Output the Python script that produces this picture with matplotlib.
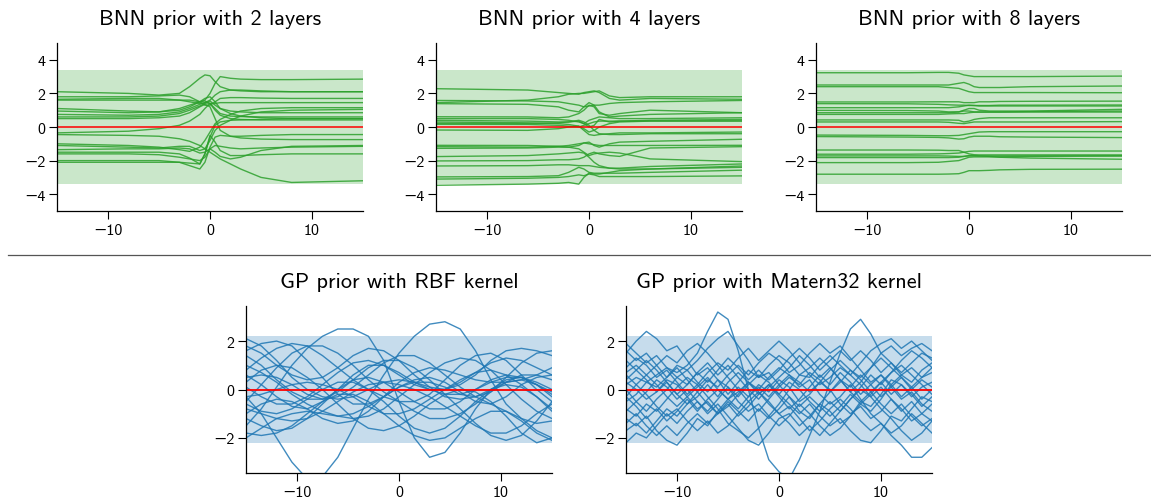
import matplotlib
matplotlib.use("Agg")
import matplotlib.pyplot as plt
from matplotlib.lines import Line2D

plt.rcParams['font.family'] = ['cmss10', 'DejaVu Sans']
plt.rcParams['axes.unicode_minus'] = True

# BNN prior samples, values read at these x positions
bnn2_x = [-15, -8, -5, -3, -2, -1, -0.5, 0, 0.5, 1, 2, 3, 5, 8, 15]
bnn2 = [
    [2.1, 2.0, 1.9, 2.0, 2.4, 2.9, 3.1, 3.05, 2.7, 2.4, 2.2, 2.15, 2.1, 2.1, 2.1],
    [1.6, 1.6, 1.6, 1.6, 1.6, 1.5, 1.6, 2.0, 2.6, 3.0, 2.9, 2.85, 2.82, 2.82, 2.85],
    [1.8, 1.8, 1.85, 1.9, 1.8, 1.5, 1.3, 1.3, 1.5, 1.7, 1.75, 1.75, 1.72, 1.7, 1.7],
    [1.65, 1.7, 1.7, 1.6, 1.5, 1.4, 1.45, 1.6, 1.9, 2.1, 2.2, 2.2, 2.15, 2.1, 2.1],
    [1.1, 0.95, 0.9, 1.0, 1.2, 1.5, 1.7, 1.8, 1.5, 1.1, 0.8, 0.65, 0.55, 0.5, 0.5],
    [0.95, 0.85, 0.9, 1.1, 1.3, 1.5, 1.55, 1.4, 1.0, 0.7, 0.5, 0.45, 0.42, 0.42, 0.42],
    [0.75, 0.7, 0.75, 0.9, 1.1, 1.35, 1.45, 1.4, 1.4, 1.45, 1.45, 1.45, 1.45, 1.45, 1.45],
    [0.6, 0.6, 0.65, 0.8, 1.0, 1.25, 1.4, 1.55, 1.3, 1.1, 0.95, 0.9, 0.85, 0.85, 0.85],
    [0.5, 0.5, 0.55, 0.65, 0.85, 1.2, 1.35, 1.2, 0.5, -0.2, -0.55, -0.65, -0.72, -0.75, -0.75],
    [-0.35, -0.25, -0.1, 0.1, 0.35, 0.75, 1.1, 1.4, 1.1, 0.8, 0.65, 0.62, 0.6, 0.6, 0.6],
    [-0.45, -0.5, -0.55, -0.7, -0.85, -1.1, -1.3, -1.5, -1.7, -1.9, -2.2, -2.5, -3.0, -3.3, -3.2],
    [-1.0, -1.1, -1.2, -1.35, -1.45, -1.2, -0.8, -0.3, 0.2, 0.45, 0.75, 0.95, 1.1, 1.15, 1.15],
    [-1.1, -1.2, -1.25, -1.15, -1.15, -1.4, -1.3, -0.8, -0.2, 0.1, 0.4, 0.65, 0.9, 1.0, 1.05],
    [-1.35, -1.3, -1.3, -1.25, -1.3, -1.55, -1.5, -1.3, -1.1, -1.15, -1.25, -1.3, -1.25, -1.2, -1.15],
    [-1.5, -1.5, -1.5, -1.6, -1.85, -2.2, -1.6, -0.6, 0.1, 0.3, 0.4, 0.42, 0.45, 0.5, 0.5],
    [-2.0, -2.0, -2.0, -2.1, -2.3, -2.5, -2.1, -1.2, -0.6, -0.5, -0.55, -0.55, -0.5, -0.45, -0.45],
    [-2.1, -2.1, -2.1, -2.1, -2.15, -2.2, -1.6, -0.5, -0.9, -1.4, -1.7, -1.7, -1.65, -1.6, -1.6],
    [-1.6, -1.6, -1.65, -1.8, -1.9, -2.0, -1.8, -1.3, -1.5, -1.75, -1.9, -1.8, -1.4, -1.15, -1.1],
]

bnn_x = [-15, -6, -3, -2, -1, -0.5, 0, 0.5, 1, 2, 3, 6, 15]
bnn4 = [
    [2.28, 2.2, 2.05, 2.0, 1.95, 2.05, 2.1, 2.15, 2.05, 1.7, 1.6, 1.7, 1.65],
    [1.45, 1.6, 1.8, 1.95, 2.0, 2.0, 2.05, 2.1, 2.15, 1.85, 1.75, 1.8, 1.8],
    [1.58, 1.55, 1.5, 1.4, 1.3, 1.2, 1.25, 1.3, 1.3, 1.4, 1.45, 1.5, 1.58],
    [1.39, 1.35, 1.2, 1.0, 0.9, 1.2, 1.45, 1.3, 0.9, 0.6, 0.65, 0.75, 0.85],
    [0.61, 0.6, 0.55, 0.6, 0.8, 1.0, 1.3, 1.2, 0.8, 0.7, 0.8, 1.0, 0.85],
    [0.5, 0.5, 0.45, 0.4, 0.3, 0.2, 0.4, 0.5, 0.6, 0.55, 0.5, 0.5, 0.55],
    [0.4, 0.35, 0.3, 0.3, 0.35, 0.2, 0.0, 0.1, 0.45, 0.3, 0.35, 0.4, 0.45],
    [0.3, 0.25, 0.2, 0.15, 0.05, -0.2, -0.45, -0.5, -0.45, -0.4, -0.35, -0.35, -0.3],
    [0.22, 0.2, 0.25, 0.3, 0.4, 0.3, 0.1, -0.2, -0.4, -0.45, -0.45, -0.4, -0.4],
    [0.16, 0.15, 0.1, 0.05, 0.0, 0.1, 0.2, 0.3, 0.35, 0.35, 0.35, 0.36, 0.36],
    [-0.18, -0.2, -0.1, 0.0, 0.05, -0.1, -0.3, -0.2, 0.0, 0.2, 0.3, 0.35, 0.36],
    [-1.09, -1.1, -1.15, -1.2, -1.1, -0.95, -0.9, -1.1, -1.2, -1.0, -0.9, -0.85, -0.73],
    [-1.17, -1.2, -1.15, -1.1, -1.0, -0.95, -1.0, -1.05, -1.1, -1.1, -1.1, -1.1, -1.09],
    [-1.27, -1.25, -1.2, -1.2, -1.3, -1.5, -1.7, -1.6, -1.55, -1.5, -1.55, -1.9, -2.06],
    [-1.76, -1.7, -1.6, -1.55, -1.5, -1.55, -1.8, -2.1, -2.3, -2.45, -2.5, -2.5, -2.32],
    [-2.02, -2.0, -1.95, -1.95, -1.9, -1.8, -1.6, -1.5, -1.6, -1.7, -1.75, -1.25, -1.17],
    [-2.32, -2.3, -2.25, -2.25, -2.3, -2.3, -2.3, -2.35, -2.4, -2.45, -2.45, -2.35, -2.2],
    [-2.97, -2.95, -2.9, -2.7, -2.4, -2.5, -2.7, -2.75, -2.75, -2.75, -2.75, -2.7, -2.57],
    [-3.1, -3.05, -3.0, -2.95, -2.85, -2.9, -2.8, -2.85, -2.95, -2.95, -2.95, -2.95, -2.91],
    [-3.47, -3.4, -3.35, -3.3, -3.4, -3.0, -2.75, -2.8, -2.8, -2.7, -2.6, -2.5, -2.4],
]

bnn8 = [
    [3.23, 3.23, 3.25, 3.25, 3.2, 3.1, 3.05, 3.0, 3.0, 3.0, 3.0, 3.0, 3.03],
    [2.5, 2.5, 2.5, 2.5, 2.6, 2.65, 2.55, 2.4, 2.35, 2.35, 2.35, 2.4, 2.44],
    [2.4, 2.4, 2.4, 2.35, 2.3, 2.2, 2.1, 2.05, 2.05, 2.05, 2.05, 2.05, 2.04],
    [1.49, 1.49, 1.5, 1.5, 1.5, 1.45, 1.45, 1.45, 1.5, 1.5, 1.52, 1.53, 1.54],
    [1.39, 1.38, 1.35, 1.32, 1.3, 1.3, 1.28, 1.28, 1.28, 1.28, 1.3, 1.3, 1.31],
    [1.15, 1.15, 1.15, 1.15, 1.2, 1.25, 1.3, 1.28, 1.25, 1.25, 1.25, 1.25, 1.25],
    [0.99, 0.98, 0.95, 0.9, 0.9, 1.0, 1.1, 1.1, 1.0, 0.95, 0.95, 0.95, 1.05],
    [0.85, 0.85, 0.85, 0.85, 0.9, 0.95, 0.95, 0.9, 0.9, 0.9, 0.9, 0.92, 0.95],
    [0.75, 0.75, 0.75, 0.78, 0.8, 0.8, 0.85, 0.88, 0.88, 0.88, 0.88, 0.89, 0.89],
    [0.42, 0.42, 0.42, 0.42, 0.4, 0.3, 0.35, 0.45, 0.5, 0.55, 0.55, 0.55, 0.55],
    [0.3, 0.3, 0.3, 0.28, 0.22, 0.2, 0.25, 0.3, 0.3, 0.3, 0.3, 0.3, 0.32],
    [-0.48, -0.5, -0.52, -0.52, -0.5, -0.45, -0.4, -0.35, -0.3, -0.28, -0.28, -0.28, -0.28],
    [-0.57, -0.6, -0.62, -0.65, -0.72, -0.7, -0.6, -0.55, -0.55, -0.55, -0.58, -0.6, -0.63],
    [-1.37, -1.37, -1.38, -1.4, -1.4, -1.5, -1.6, -1.65, -1.66, -1.66, -1.66, -1.66, -1.66],
    [-1.62, -1.62, -1.6, -1.58, -1.55, -1.5, -1.45, -1.43, -1.43, -1.43, -1.43, -1.43, -1.43],
    [-1.72, -1.72, -1.72, -1.73, -1.75, -1.75, -1.72, -1.72, -1.72, -1.72, -1.72, -1.72, -1.72],
    [-1.82, -1.82, -1.82, -1.82, -1.8, -1.75, -1.7, -1.7, -1.72, -1.75, -1.8, -1.85, -1.92],
    [-2.12, -2.12, -2.1, -2.05, -2.0, -1.9, -1.8, -1.78, -1.78, -1.78, -1.78, -1.75, -1.72],
    [-2.81, -2.81, -2.81, -2.8, -2.78, -2.7, -2.6, -2.6, -2.6, -2.58, -2.55, -2.52, -2.51],
]

bnn_band = 3.4

# GP prior samples
rbf_x = [-15, -13.5, -12, -10.5, -9, -7.5, -6, -4.5, -3, -1.5, 0,
         1.5, 3, 4.5, 6, 7.5, 9, 10.5, 12, 13.5, 15]
rbf = [
    [-0.3, -1.0, -2.0, -3.0, -3.7, -3.6, -2.8, -1.6, -0.4, 0.6, 1.5, 2.2, 2.7, 2.8, 2.5, 1.6, 0.4, -0.6, -1.2, -1.4, -1.3],
    [-1.5, -0.8, 0.1, 1.0, 1.7, 2.2, 2.5, 2.5, 2.2, 1.2, -0.5, -2.0, -2.8, -2.6, -1.8, -0.8, 0.0, 0.4, 0.5, 0.2, -0.3],
    [2.1, 1.8, 1.2, 0.5, 0.0, -0.3, -0.4, -0.3, 0.0, 0.3, 0.4, 0.3, 0.1, 0.0, 0.2, 0.6, 1.2, 1.6, 1.7, 1.6, 1.4],
    [1.6, 1.9, 2.0, 1.8, 1.2, 0.5, -0.2, -0.6, -0.6, -0.3, 0.1, 0.4, 0.5, 0.3, -0.1, -0.5, -0.6, -0.3, 0.2, 0.5, 0.6],
    [0.8, 1.3, 1.7, 1.9, 1.8, 1.4, 0.9, 0.4, 0.0, -0.3, -0.5, -0.5, -0.2, 0.4, 1.0, 1.4, 1.5, 1.2, 0.6, 0.0, -0.5],
    [-0.5, 0.2, 0.9, 1.5, 1.8, 1.8, 1.5, 1.0, 0.4, -0.1, -0.5, -0.9, -1.2, -1.2, -1.0, -0.6, -0.1, 0.5, 1.1, 1.5, 1.6],
    [0.5, 0.6, 0.5, 0.2, -0.2, -0.4, -0.3, 0.1, 0.6, 1.1, 1.4, 1.4, 1.1, 0.6, 0.1, -0.3, -0.6, -0.9, -1.3, -1.8, -2.1],
    [-2.0, -1.6, -1.2, -1.0, -0.9, -1.0, -1.1, -1.0, -0.7, -0.3, 0.1, 0.3, 0.3, 0.1, -0.2, -0.3, -0.1, 0.3, 0.6, 0.6, 0.4],
    [-1.8, -1.9, -1.8, -1.5, -1.0, -0.5, -0.2, -0.2, -0.5, -1.0, -1.5, -1.9, -2.1, -2.0, -1.6, -1.2, -0.9, -0.9, -1.2, -1.7, -2.0],
    [-0.8, -1.0, -1.2, -1.3, -1.2, -0.9, -0.5, -0.1, 0.2, 0.3, 0.2, 0.0, -0.3, -0.7, -1.1, -1.5, -1.8, -1.8, -1.5, -1.0, -0.6],
    [0.1, -0.3, -0.6, -0.6, -0.3, 0.2, 0.7, 1.1, 1.2, 1.0, 0.6, 0.2, 0.0, 0.0, 0.3, 0.7, 1.1, 1.3, 1.2, 0.9, 0.6],
    [-0.3, -0.2, 0.0, 0.2, 0.3, 0.2, 0.0, -0.3, -0.7, -1.0, -1.0, -0.8, -0.4, 0.0, 0.4, 0.7, 0.8, 0.6, 0.2, -0.3, -0.8],
    [1.0, 0.7, 0.3, -0.2, -0.6, -0.9, -1.1, -1.2, -1.1, -0.8, -0.3, 0.2, 0.7, 1.1, 1.3, 1.2, 0.8, 0.2, -0.4, -0.9, -1.2],
    [0.3, 0.8, 1.0, 0.9, 0.5, 0.0, -0.6, -1.2, -1.6, -1.7, -1.5, -1.1, -0.6, -0.2, 0.0, -0.1, -0.5, -1.1, -1.8, -2.2, -2.0],
    [-1.2, -1.5, -1.7, -1.6, -1.2, -0.6, 0.0, 0.4, 0.5, 0.3, -0.1, -0.5, -0.8, -0.8, -0.5, 0.0, 0.4, 0.6, 0.5, 0.2, -0.1],
    [1.4, 1.0, 0.4, -0.1, -0.4, -0.4, -0.1, 0.4, 0.9, 1.2, 1.2, 0.9, 0.4, -0.2, -0.8, -1.4, -1.9, -2.1, -1.9, -1.3, -0.5],
    [-1.0, -0.6, -0.4, -0.5, -0.8, -1.2, -1.4, -1.3, -0.9, -0.3, 0.3, 0.7, 0.9, 0.8, 0.6, 0.4, 0.3, 0.3, 0.4, 0.6, 0.9],
    [0.6, 0.2, -0.3, -0.7, -0.8, -0.5, 0.0, 0.6, 1.0, 1.0, 0.7, 0.3, 0.0, -0.2, -0.2, 0.0, 0.3, 0.5, 0.5, 0.3, 0.0],
    [-0.6, -0.9, -1.0, -0.8, -0.4, 0.0, 0.3, 0.3, 0.0, -0.5, -1.1, -1.6, -1.8, -1.6, -1.1, -0.5, 0.0, 0.2, 0.1, -0.3, -0.9],
    [1.8, 1.5, 1.0, 0.6, 0.4, 0.5, 0.9, 1.4, 1.7, 1.6, 1.2, 0.6, 0.1, -0.3, -0.4, -0.3, 0.0, 0.3, 0.4, 0.2, -0.2],
]

matern_x = list(range(-15, 16))
matern = [
    [0.2, 0.5, 0.3, 0.6, 0.9, 0.7, 1.0, 1.5, 2.4, 3.2, 2.9, 1.6, 0.0, -1.6, -2.9, -3.4, -3.7, -2.9, -1.9, -0.9, 0.3, 1.5, 2.5, 2.9, 2.3, 1.5, 1.1, 0.6, 0.9, 0.5, 0.7],
    [-0.5, -0.2, 0.3, 0.1, 0.5, 1.0, 0.8, 1.2, 1.7, 2.1, 2.4, 1.8, 1.2, 0.5, 0.7, 0.2, -0.3, -0.9, -1.2, -0.6, -0.9, -1.4, -1.1, -0.5, -0.7, -0.2, 0.4, 0.2, -0.3, 0.1, 0.3],
    [1.5, 2.0, 2.4, 2.1, 1.6, 1.8, 1.2, 0.6, 0.9, 0.4, -0.2, 0.3, 0.8, 0.5, 1.0, 1.4, 1.1, 0.6, 0.9, 1.3, 0.9, 0.4, -0.1, 0.3, 0.9, 1.5, 1.8, 1.4, 1.7, 1.9, 1.6],
    [-1.2, -1.5, -1.1, -1.7, -2.1, -2.3, -1.8, -1.2, -1.5, -0.9, -0.4, -0.8, -0.3, 0.2, -0.1, 0.4, 0.1, -0.5, -0.2, 0.3, 0.0, -0.6, -1.0, -0.7, -1.2, -0.9, -0.4, -0.8, -1.3, -1.0, -0.6],
    [0.3, 0.0, -0.4, -0.1, 0.4, 0.2, -0.3, -0.8, -0.5, -1.0, -0.7, -0.2, 0.3, 0.0, 0.5, 0.9, 0.6, 0.1, 0.4, -0.2, -0.6, -0.3, 0.2, -0.4, -1.0, -1.4, -1.9, -2.3, -2.8, -2.8, -2.4],
    [0.9, 1.3, 1.0, 0.5, 0.8, 0.3, -0.2, 0.2, 0.7, 1.1, 0.8, 1.3, 1.7, 1.2, 1.6, 2.0, 1.6, 1.1, 0.6, 0.2, 0.5, 0.9, 0.6, 1.1, 1.6, 1.9, 2.1, 1.7, 2.0, 1.6, 1.2],
    [-0.8, -1.1, -0.6, -0.9, -0.4, 0.1, 0.5, 0.2, -0.3, -0.8, -1.4, -1.7, -2.0, -1.6, -1.1, -0.6, 0.0, 0.6, 0.5, 1.0, 1.4, 1.0, 0.6, 0.2, -0.3, 0.1, -0.4, -0.9, -0.5, -1.0, -1.3],
    [1.9, 1.5, 1.1, 1.4, 0.9, 0.5, 0.8, 0.3, -0.1, 0.4, 0.1, -0.5, -0.9, -0.6, -1.1, -1.5, -1.1, -0.6, -1.0, -1.5, -1.9, -1.6, -1.1, -0.6, -0.9, -0.4, 0.2, 0.6, 0.3, 0.8, 1.1],
    [-1.7, -1.4, -1.8, -1.3, -0.8, -1.1, -0.6, -0.1, 0.4, 0.1, 0.6, 1.0, 0.6, 1.1, 1.5, 1.2, 0.7, 1.0, 1.5, 1.9, 1.5, 1.8, 1.3, 0.8, 0.3, 0.6, 0.1, -0.4, -0.1, -0.6, -0.9],
    [0.6, 0.2, 0.6, 1.0, 1.4, 1.1, 1.6, 1.9, 1.5, 1.0, 0.5, 0.0, -0.5, -0.1, -0.6, -1.0, -0.7, -1.2, -1.7, -1.3, -0.8, -0.4, -0.8, -1.3, -1.7, -1.4, -1.8, -1.5, -1.0, -1.4, -1.8],
    [-0.3, 0.2, -0.2, -0.7, -1.1, -0.8, -1.3, -1.7, -1.3, -1.8, -1.5, -1.0, -0.5, -0.9, -0.4, 0.1, 0.5, 0.2, 0.7, 0.4, -0.1, 0.3, 0.8, 0.5, 0.9, 1.3, 0.9, 0.5, 0.0, 0.4, 0.1],
    [1.2, 0.8, 0.4, -0.1, 0.3, -0.2, -0.6, -0.3, 0.2, -0.3, 0.3, 0.7, 0.3, -0.2, 0.2, -0.3, -0.8, -0.4, 0.1, 0.6, 0.2, 0.7, 0.3, -0.2, 0.2, 0.6, 0.2, -0.3, 0.1, -0.4, 0.0],
    [-2.2, -1.8, -2.0, -1.5, -1.0, -1.4, -0.9, -0.5, -0.9, -0.4, 0.1, -0.3, 0.2, 0.6, 0.3, -0.2, -0.6, -1.0, -0.6, -1.1, -1.5, -1.2, -1.7, -2.1, -2.2, -1.7, -1.1, -1.3, -0.8, -0.3, -0.5],
    [0.0, -0.5, -0.9, -0.4, 0.0, 0.5, 0.2, 0.7, 1.1, 0.6, 1.0, 0.5, 0.0, -0.4, 0.1, 0.5, 0.9, 1.4, 1.0, 0.5, 0.9, 0.4, -0.1, -0.5, -0.1, -0.6, -1.0, -0.6, -1.1, -1.5, -1.2],
    [1.6, 1.2, 1.5, 1.0, 0.5, 0.9, 0.4, -0.1, -0.6, -1.0, -0.6, -1.1, -0.7, -0.2, 0.2, -0.2, 0.3, 0.0, -0.5, -0.9, -0.5, -0.9, -0.4, 0.1, 0.6, 0.2, 0.7, 1.2, 1.6, 1.3, 0.9],
    [-0.9, -0.5, -0.1, 0.4, 0.1, -0.4, 0.0, -0.5, -1.0, -0.6, -1.1, -1.6, -2.1, -2.3, -1.8, -1.2, -1.0, -1.5, -1.1, -0.6, -0.1, 0.4, 0.1, 0.6, 0.2, -0.3, 0.1, 0.5, 0.1, 0.5, 0.9],
    [0.4, 0.8, 1.2, 0.8, 0.3, -0.2, 0.2, 0.7, 0.3, 0.8, 1.3, 0.9, 0.4, 0.8, 0.4, 0.8, 1.3, 1.7, 1.3, 0.8, 1.2, 1.6, 1.2, 1.6, 1.2, 0.7, 1.1, 0.7, 1.1, 1.5, 1.3],
    [-1.4, -1.0, -1.5, -1.9, -1.5, -1.9, -1.4, -1.0, -1.4, -1.0, -0.5, -0.9, -1.3, -0.8, -1.2, -0.8, -0.3, -0.7, -0.3, -0.7, -1.1, -0.7, -0.2, -0.6, -0.2, 0.3, -0.2, 0.2, -0.2, -0.7, -0.3],
    [0.7, 1.0, 0.6, 0.2, -0.3, -0.7, -0.3, 0.1, 0.5, 0.0, -0.4, 0.1, -0.3, 0.1, -0.3, 0.2, 0.6, 0.3, -0.1, 0.3, 0.8, 1.2, 0.8, 0.4, -0.1, 0.3, 0.7, 1.0, 0.6, 0.2, -0.2],
    [-0.3, -0.7, -1.2, -0.8, -1.3, -0.9, -0.4, -0.9, -0.4, 0.0, -0.4, -0.1, 0.3, -0.1, -0.5, -1.0, -1.4, -1.9, -1.5, -1.9, -1.4, -0.9, -0.4, 0.0, -0.3, -0.8, -1.2, -1.7, -2.1, -1.8, -1.3],
]

gp_band = 2.2

titles_top = ["BNN prior with 2 layers", "BNN prior with 4 layers", "BNN prior with 8 layers"]
titles_bottom = ["GP prior with RBF kernel", "GP prior with Matern32 kernel"]

green = '#2ca02c'
blue = '#1f77b4'

fig = plt.figure(figsize=(11.51, 5.02), dpi=100)

W, H = 1151, 502


def make_ax(left, right, top, bottom):
    return fig.add_axes([left / W, 1 - bottom / H, (right - left) / W, (bottom - top) / H])


def style(ax, title):
    for s in ['top', 'right']:
        ax.spines[s].set_visible(False)
    ax.spines['left'].set_linewidth(0.9)
    ax.spines['bottom'].set_linewidth(0.9)
    ax.tick_params(direction='out', length=5.5, width=0.8, labelsize=11.5, pad=3)
    ax.set_title(title, fontsize=16, pad=13.5)
    ax.set_xlim(-15, 15)
    ax.set_xticks([-10, 0, 10])


top_lefts = [57, 436, 816]
top_xs = [bnn2_x, bnn_x, bnn_x]
for left, xs, samples, title in zip(top_lefts, top_xs, [bnn2, bnn4, bnn8], titles_top):
    ax = make_ax(left, left + 306, 44, 212)
    ax.fill_between([-15, 15], [-bnn_band, -bnn_band], [bnn_band, bnn_band],
                    color=green, alpha=0.25, linewidth=0)
    for ys in samples:
        ax.plot(xs, ys, color=green, lw=1.0, alpha=0.85)
    ax.axhline(0, color='red', lw=1.1)
    ax.set_ylim(-5, 5)
    ax.set_yticks([-4, -2, 0, 2, 4])
    style(ax, title)

bottom_lefts = [246, 626]
for left, xs, samples, title in zip(bottom_lefts, [rbf_x, matern_x], [rbf, matern], titles_bottom):
    ax = make_ax(left, left + 306, 307, 474)
    ax.fill_between([-15, 15], [-gp_band, -gp_band], [gp_band, gp_band],
                    color=blue, alpha=0.25, linewidth=0)
    for ys in samples:
        ax.plot(xs, ys, color=blue, lw=1.0, alpha=0.85)
    ax.axhline(0, color='red', lw=1.3)
    ax.set_ylim(-3.45, 3.45)
    ax.set_yticks([-2, 0, 2])
    style(ax, title)

fig.add_artist(Line2D([8 / W, 1150 / W], [1 - 256 / H, 1 - 256 / H],
                      transform=fig.transFigure, color='#555555', lw=0.9))

fig.savefig('out.png', dpi=100)
